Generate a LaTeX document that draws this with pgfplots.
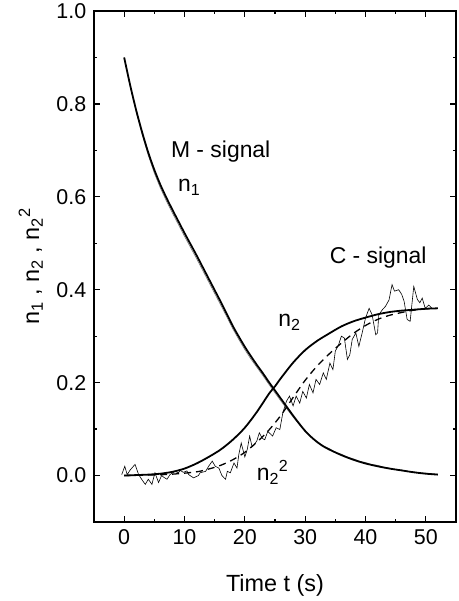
\documentclass[border=0pt]{standalone}
\usepackage{fontspec}
\setmainfont{Liberation Sans}
\usepackage{pgfplots}
\pgfplotsset{compat=1.18}

\begin{document}
\fontsize{23}{26}\selectfont
\begin{tikzpicture}
  \begin{axis}[
      name=ax,
      scale only axis,
      width=362bp, height=511bp,
      xmin=-5, xmax=55,
      ymin=-0.1, ymax=1.0,
      xtick={0,10,20,30,40,50},
      minor xtick={-5,5,15,25,35,45,55},
      ytick={0,0.2,0.4,0.6,0.8,1.0},
      minor ytick={-0.1,0.1,0.3,0.5,0.7,0.9},
      tick align=inside,
      major tick length=6bp,
      minor tick length=3.5bp,
      every tick/.style={line width=1.2bp, black},
      axis line style={line width=1.6bp},
      /pgf/number format/assume math mode=true,
      yticklabel style={/pgf/number format/.cd, fixed, fixed zerofill, precision=1},
      tick label style={font=\fontsize{21.5}{24}\selectfont},
      label style={font=\fontsize{23.5}{26}\selectfont},
      xlabel style={yshift=-14bp},
      ylabel style={yshift=-2bp},
      xlabel={Time t (s)},
      ylabel={n\textsubscript{1} , n\textsubscript{2} , n\textsubscript{2}\textsuperscript{2}},
    ]
    % M-signal, measured (thin)
    \addplot[black!55, line width=0.6bp] coordinates {
      (0,0.9) (1,0.838) (2,0.782) (3,0.733) (4,0.689) (5,0.651) (6,0.619)
      (7,0.591) (8,0.565) (9,0.54) (10,0.515) (11,0.491) (12,0.467)
      (13,0.442) (14,0.417) (15,0.392) (16,0.367) (17,0.342) (18,0.316)
      (19,0.293) (20,0.271) (21,0.251) (22,0.233) (23,0.215) (24,0.196)
      (25,0.178) (26,0.16) (27,0.143) (28,0.126) (29,0.11) (30,0.095)
      (31,0.083) (32,0.073) (33,0.064) (34,0.058) (35,0.05) (36,0.046)
      (37,0.04) (38,0.036) (39,0.031) (40,0.028) (41,0.024) (42,0.022)
      (43,0.018) (44,0.016) (45,0.013) (46,0.012) (47,0.009) (48,0.008)
      (49,0.006) (50,0.005) (51,0.004) (52,0.003)
    };
    % n1
    \addplot[black, line width=1.8bp, smooth] coordinates {
      (0,0.9) (1,0.84) (2,0.786) (3,0.738) (4,0.695) (5,0.658) (6,0.626)
      (7,0.598) (8,0.572) (9,0.547) (10,0.522) (11,0.498) (12,0.474)
      (13,0.449) (14,0.424) (15,0.399) (16,0.374) (17,0.348) (18,0.322)
      (19,0.299) (20,0.277) (21,0.257) (22,0.238) (23,0.22) (24,0.201)
      (25,0.183) (26,0.165) (27,0.147) (28,0.129) (29,0.112) (30,0.096)
      (31,0.083) (32,0.072) (33,0.063) (34,0.056) (36,0.044) (38,0.034)
      (40,0.026) (42,0.02) (44,0.015) (46,0.011) (48,0.007) (50,0.004)
      (52,0.002)
    };
    % C-signal, measured (thin)
    \addplot[black, line width=0.6bp] coordinates {
      (-0.4,0.002) (0.1,0.02) (0.5,0.002) (1.0,0.012) (1.8,0.024) (2.4,0.002)
      (3.0,-0.01) (3.5,-0.019) (4.0,-0.008) (4.6,-0.019) (5.1,0.006)
      (5.7,-0.015) (6.2,0.0) (6.6,-0.004) (7.1,-0.008) (7.6,0.002) (8.4,0.009)
      (9.0,0.006) (9.3,0.011) (9.8,0.007) (10.4,0.01) (10.7,0.002)
      (11.5,-0.005) (12.3,0.0) (12.6,0.006) (13.5,0.009) (14.0,0.02)
      (14.6,0.031) (15.1,0.02) (15.7,0.016) (16.2,0.0) (16.8,-0.008)
      (17.1,0.009) (17.6,0.006) (18.2,0.027) (18.7,0.016) (19.0,0.045)
      (19.4,0.07) (20.0,0.04) (20.4,0.056) (20.8,0.085) (21.2,0.062)
      (21.6,0.067) (22.0,0.075) (22.4,0.092) (22.9,0.08) (23.3,0.077)
      (23.8,0.095) (24.2,0.09) (24.6,0.085) (25.2,0.103) (25.8,0.099)
      (26.3,0.135) (26.9,0.16) (27.4,0.171) (28.0,0.15) (28.5,0.171)
      (29.1,0.156) (29.6,0.181) (30.2,0.167) (30.7,0.196) (31.3,0.178)
      (31.8,0.207) (32.4,0.196) (33.0,0.221) (33.5,0.207) (34.1,0.242)
      (34.6,0.228) (35.0,0.268) (35.5,0.28) (36.0,0.3) (36.5,0.296)
      (37.0,0.25) (37.4,0.26) (37.8,0.293) (38.4,0.307) (38.9,0.278)
      (39.5,0.31) (40.0,0.339) (40.6,0.36) (41.1,0.346) (41.7,0.303)
      (42.0,0.307) (42.2,0.346) (42.8,0.357) (43.3,0.364) (43.9,0.378)
      (44.4,0.411) (44.8,0.397) (45.5,0.4) (46.0,0.39) (46.4,0.375)
      (46.9,0.336) (47.4,0.332) (48.0,0.407) (48.6,0.379) (49.0,0.372)
      (49.4,0.382) (49.9,0.36) (50.5,0.367) (51.0,0.36)
    };
    % n2
    \addplot[black, line width=1.8bp, smooth] coordinates {
      (0,0) (2,0.001) (4,0.002) (6,0.004) (8,0.008) (10,0.015) (12,0.026)
      (14,0.04) (16,0.056) (18,0.077) (20,0.103) (22,0.137) (24,0.176)
      (25,0.192) (26,0.21) (28,0.243) (30,0.27) (32,0.29) (34,0.306)
      (36,0.321) (38,0.332) (40,0.34) (42,0.347) (44,0.352) (46,0.355)
      (48,0.357) (50,0.359) (52,0.36)
    };
    % n2^2
    \addplot[black, line width=1.3bp, dash pattern=on 7bp off 5bp, smooth] coordinates {
      (0,0) (4,0.001) (8,0.003) (12,0.008) (14,0.014) (16,0.022) (18,0.034)
      (20,0.05) (22,0.072) (24,0.098) (26,0.13) (28,0.168) (30,0.205)
      (32,0.236) (34,0.262) (36,0.285) (38,0.306) (40,0.323) (42,0.336)
      (44,0.345) (46,0.351) (48,0.356) (50,0.359) (51,0.36)
    };
    \node at (axis cs:16,0.697) {M - signal};
    \node at (axis cs:10.8,0.62) {n\textsubscript{1}};
    \node at (axis cs:42.1,0.469) {C - signal};
    \node at (axis cs:27.4,0.33) {n\textsubscript{2}};
    \node at (axis cs:24.6,0.007) {n\textsubscript{2}\textsuperscript{2}};
  \end{axis}
  \pgfresetboundingbox
  \path (ax.south west) ++(-94bp,-79bp) rectangle ++(459bp,601bp);
\end{tikzpicture}
\end{document}
